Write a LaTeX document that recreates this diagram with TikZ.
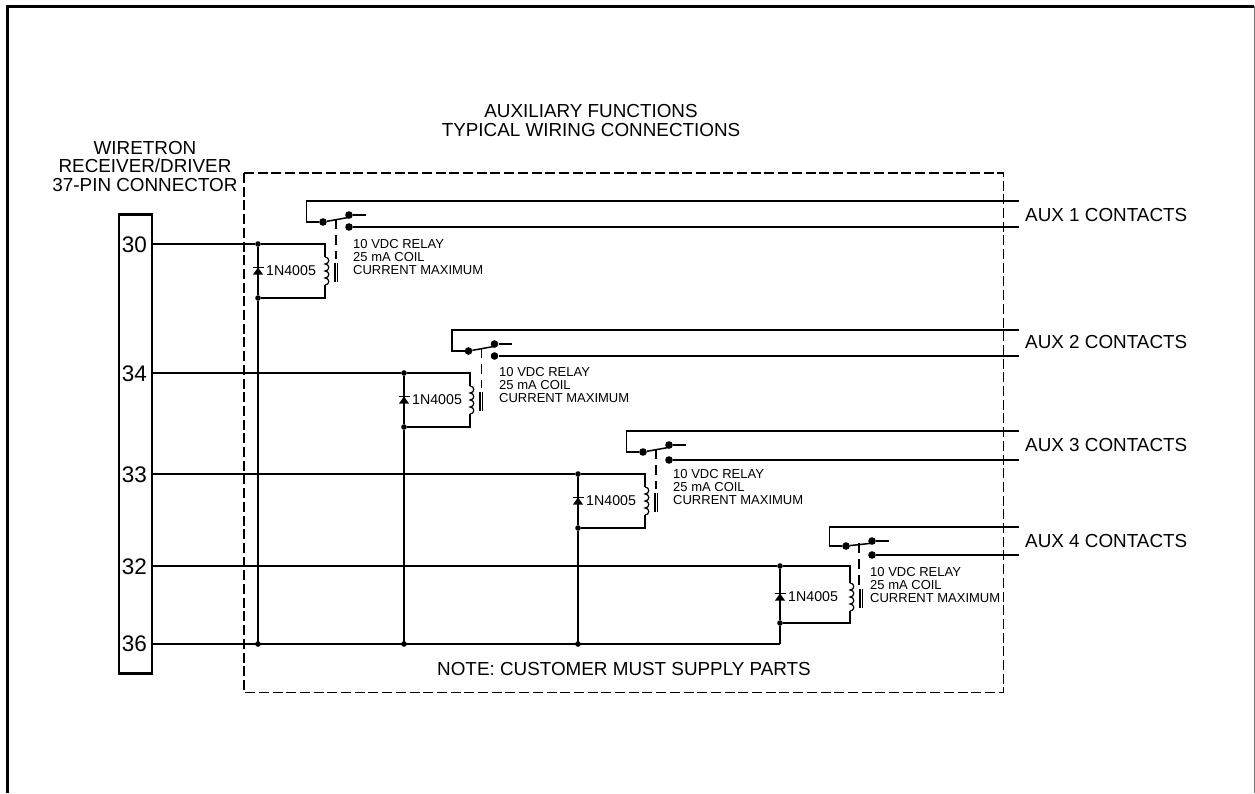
\documentclass[tikz,border=0pt]{standalone}
\usepackage{fontspec}
\setmainfont{Liberation Sans}
\usetikzlibrary{calc,positioning}

\tikzset{
  wire/.style={line width=1.5pt},
  dashbox/.style={line width=1.5pt, dash pattern=on 10pt off 3.7pt},
  relaydash/.style={line width=1.5pt, dash pattern=on 10pt off 6pt},
  bigdot/.style={circle, fill=black, inner sep=0pt, minimum size=7.6pt},
  smalldot/.style={circle, fill=black, inner sep=0pt, minimum size=5.6pt},
  mainlabel/.style={font=\fontsize{18.85}{18.6}\selectfont, align=center, inner sep=0pt},
  relaylabel/.style={font=\fontsize{13}{13.4}\selectfont, align=left, anchor=west, inner sep=0pt},
  partlabel/.style={font=\fontsize{14.2}{14}\selectfont, anchor=west, inner sep=0pt},
  pinlabel/.style={font=\fontsize{22.5}{22}\selectfont, inner sep=0pt},
}

\begin{document}
\begin{tikzpicture}[x=1pt, y=-1pt]

  \useasboundingbox (0,0) rectangle (1255,793) ;

  \draw [line width=3pt] (7,793) -- (7,6) -- (1254,6) ;

  \draw [line width=1pt, black!55] (1254,6) -- (1254,793) ;

  \node [mainlabel] (title) at (591,120.5) {AUXILIARY FUNCTIONS\\TYPICAL WIRING CONNECTIONS} ;

  \node [mainlabel] (head) at (145,166.5) {WIRETRON\\RECEIVER/DRIVER\\37-PIN CONNECTOR} ;

  \draw [dashbox] (244,173) rectangle (1003.5,692.5) ;

  \node [draw, line width=2.4pt, minimum width=33pt, minimum height=459pt, inner sep=0pt] (conn) at (135.5,444) {} ;

  \node [mainlabel] (note) at (624,669) {NOTE: CUSTOMER MUST SUPPLY PARTS} ;

  \node [pinlabel] (pin36) at (134.5,644) {36} ;

  \coordinate (bus) at (780,644) ;

  \draw [wire] (conn.east |- bus) -- (bus) ;

  \foreach \n/\pin/\xd/\xc/\xs/\xt/\yw/\yb/\ym/\yt/\yp/\yu/\yl/\yy/\ya in
    {1/30/258/325/258/353/244/298/271/201/222/215/227/257/215,
     2/34/404/470/403.5/499/373/427/400/330/351/344/356/385/342,
     3/33/578/645/578/673/474/528/501/431/452/445/460/487/445,
     4/32/780/850/781/870/566/623/597/527/546/541/555/585/541} {

    \node [pinlabel] (pin\n) at (134.5,\yw+0.5) {\pin} ;

    \node [smalldot] (top\n) at (\xd,\yw) {} ;

    \node [smalldot] (bot\n) at (\xd,\yb) {} ;

    \coordinate (bus\n) at (\xd,644) ;

    \coordinate (coil\n) at (\xc,\ym-14) ;

    \coordinate (coilend\n) at (\xc,\ym+14) ;

    \draw [wire] (conn.east |- top\n) -- (top\n) -- (bot\n) -- (bus\n) ;

    % coil side of the loop
    \draw [line width=1.2pt] (coil\n) \foreach \k in {1,...,4} { .. controls +(5,0) and +(5,0) .. ++(0,7) } ;

    \draw [wire] (top\n) -| (coil\n) ;

    \draw [wire] (bot\n) -| (coilend\n) ;

    % diode
    \fill (\xd-5,\ym+3.5) -- (\xd+5,\ym+3.5) -- (\xd,\ym-3.5) -- cycle ;

    \draw [line width=1.6pt] (\xd-5.5,\ym-3.5) -- (\xd+5.5,\ym-3.5) ;

    \node [partlabel] (part\n) at (\xd+8,\ym) {1N4005} ;

    % core and contacts
    \draw [line width=1.1pt] (\xc+10,\ym-8) -- (\xc+10,\ym+11) ;

    \draw [line width=1.1pt] (\xc+12.7,\ym-8) -- (\xc+12.7,\ym+11) ;

    \node [bigdot] (pivot\n) at (\xs+65,\yp) {} ;

    \node [bigdot] (upper\n) at (\xs+91,\yu) {} ;

    \node [bigdot] (lower\n) at (\xs+91,\yl) {} ;

    \draw [wire] (pivot\n) -- (\xs+48.7,\yp) -- (\xs+48.7,\yt) -- (1019,\yt) ;

    \draw [wire] (lower\n) -- (1019,\yl) ;

    \draw [wire] (upper\n) -- (\xs+108,\yu) ;

    \draw [wire] (pivot\n) -- ($(upper\n)+(2,2)$) ;

    \draw [relaydash] (\xs+78,\yp-3) -- (\xs+78,\ym-12) ;

    \node [relaylabel] (relay\n) at (\xt,\yy) {10 VDC RELAY\\25 mA COIL\\CURRENT MAXIMUM} ;

    \node [mainlabel, anchor=west] (aux\n) at (1025,\ya) {AUX \n{} CONTACTS} ;

  }

  \foreach \n in {1,2,3} {

    \node [smalldot] at (bus\n) {} ;

  }

\end{tikzpicture}
\end{document}
